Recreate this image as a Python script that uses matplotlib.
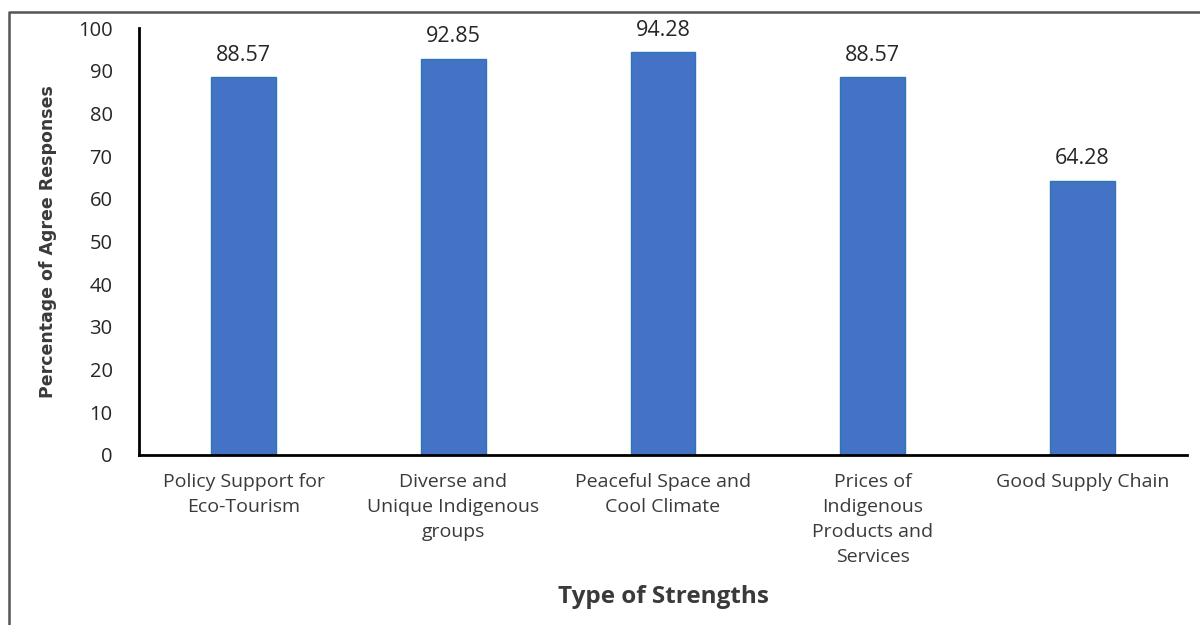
import matplotlib.pyplot as plt
from matplotlib.lines import Line2D

categories = ['Policy Support for\nEco-Tourism',
              'Diverse and\nUnique Indigenous\ngroups',
              'Peaceful Space and\nCool Climate',
              'Prices of\nIndigenous\nProducts and\nServices',
              'Good Supply Chain']
values = [88.57, 92.85, 94.28, 88.57, 64.28]
yticks = [0, 10, 20, 30, 40, 50, 60, 70, 80, 90, 100]

plt.rcParams['font.family'] = ['Open Sans', 'DejaVu Sans']

fig = plt.figure(figsize=(12, 6.25), dpi=100)
ax = fig.add_axes([139/1200, 1-455/625, 1048/1200, 427/625])

x = range(len(categories))
ax.bar(x, values, width=0.31, color='#4472C4', edgecolor='#2E75B6', linewidth=1)
for i, v in zip(x, values):
    ax.annotate(f'{v:.2f}', (i, v), xytext=(0, 8), textcoords='offset points',
                ha='center', va='bottom', fontsize=15.5, color='#262626')

ax.set_xlim(-0.5, len(categories)-0.5)
ax.set_ylim(0, 100)
ax.set_yticks(yticks)
ax.set_xticks(list(x))
ax.set_xticklabels(categories, fontsize=14, color='#3a3a3a', linespacing=1.5)
ax.tick_params(axis='y', labelsize=14.5, labelcolor='#262626', length=0, pad=19)
ax.tick_params(axis='x', length=0, pad=13)

for s in ['top', 'right']:
    ax.spines[s].set_visible(False)
for s in ['left', 'bottom']:
    ax.spines[s].set_linewidth(2)
    ax.spines[s].set_color('black')

ax.set_xlabel('Type of Strengths', fontsize=17.5, fontweight='bold', color='#3a3a3a')
ax.xaxis.set_label_coords(0.5, -0.305)
fig.text(48/1200, 1-242/625, 'Percentage of Agree Responses', rotation=90,
         ha='center', va='center', fontsize=12.5, fontweight='bold', color='#3a3a3a',
         family=['Liberation Sans Narrow', 'DejaVu Sans'])

# frame around the chart area
fig.add_artist(Line2D([9/1200, 9/1200, 1], [0, 1-12/625, 1-12/625],
                      transform=fig.transFigure, color='#555555', linewidth=1.8))

fig.savefig('out.png', dpi=100)
